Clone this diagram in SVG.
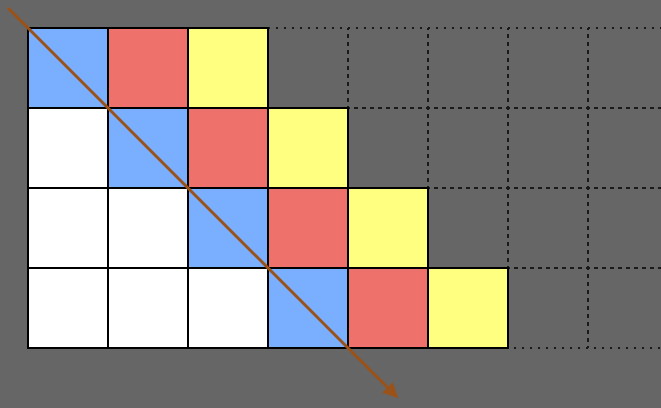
<svg xmlns="http://www.w3.org/2000/svg" width="661" height="408" viewBox="0 0 661 408">
<defs>
<style>
.c{stroke:#000;stroke-width:2}
.b{fill:#7aafff}.r{fill:#ee716b}.y{fill:#ffff80}.w{fill:#fff}
.d{fill:none;stroke:#1a1a1a;stroke-width:2;stroke-dasharray:2 6}
</style>
<marker id="ah" viewBox="0 0 10 10" refX="9" refY="5" markerWidth="5" markerHeight="5" orient="auto" markerUnits="strokeWidth">
<path d="M0,0 L10,5 L0,10 z" fill="#9a5218"/>
</marker>
</defs>
<rect width="661" height="408" fill="#666"/>
<g id="empty">
<rect class="d" x="268" y="28" width="80" height="80"/>
<rect class="d" x="348" y="28" width="80" height="80"/>
<rect class="d" x="428" y="28" width="80" height="80"/>
<rect class="d" x="508" y="28" width="80" height="80"/>
<rect class="d" x="588" y="28" width="80" height="80"/>
<rect class="d" x="348" y="108" width="80" height="80"/>
<rect class="d" x="428" y="108" width="80" height="80"/>
<rect class="d" x="508" y="108" width="80" height="80"/>
<rect class="d" x="588" y="108" width="80" height="80"/>
<rect class="d" x="428" y="188" width="80" height="80"/>
<rect class="d" x="508" y="188" width="80" height="80"/>
<rect class="d" x="588" y="188" width="80" height="80"/>
<rect class="d" x="508" y="268" width="80" height="80"/>
<rect class="d" x="588" y="268" width="80" height="80"/>
</g>
<g id="row0">
<rect class="c b" x="28" y="28" width="80" height="80"/>
<rect class="c r" x="108" y="28" width="80" height="80"/>
<rect class="c y" x="188" y="28" width="80" height="80"/>
</g>
<g id="row1">
<rect class="c w" x="28" y="108" width="80" height="80"/>
<rect class="c b" x="108" y="108" width="80" height="80"/>
<rect class="c r" x="188" y="108" width="80" height="80"/>
<rect class="c y" x="268" y="108" width="80" height="80"/>
</g>
<g id="row2">
<rect class="c w" x="28" y="188" width="80" height="80"/>
<rect class="c w" x="108" y="188" width="80" height="80"/>
<rect class="c b" x="188" y="188" width="80" height="80"/>
<rect class="c r" x="268" y="188" width="80" height="80"/>
<rect class="c y" x="348" y="188" width="80" height="80"/>
</g>
<g id="row3">
<rect class="c w" x="28" y="268" width="80" height="80"/>
<rect class="c w" x="108" y="268" width="80" height="80"/>
<rect class="c w" x="188" y="268" width="80" height="80"/>
<rect class="c b" x="268" y="268" width="80" height="80"/>
<rect class="c r" x="348" y="268" width="80" height="80"/>
<rect class="c y" x="428" y="268" width="80" height="80"/>
</g>
<g id="connectors">
<line x1="8" y1="8" x2="397" y2="397" stroke="#9a5218" stroke-width="3" marker-end="url(#ah)"/>
</g>
</svg>
